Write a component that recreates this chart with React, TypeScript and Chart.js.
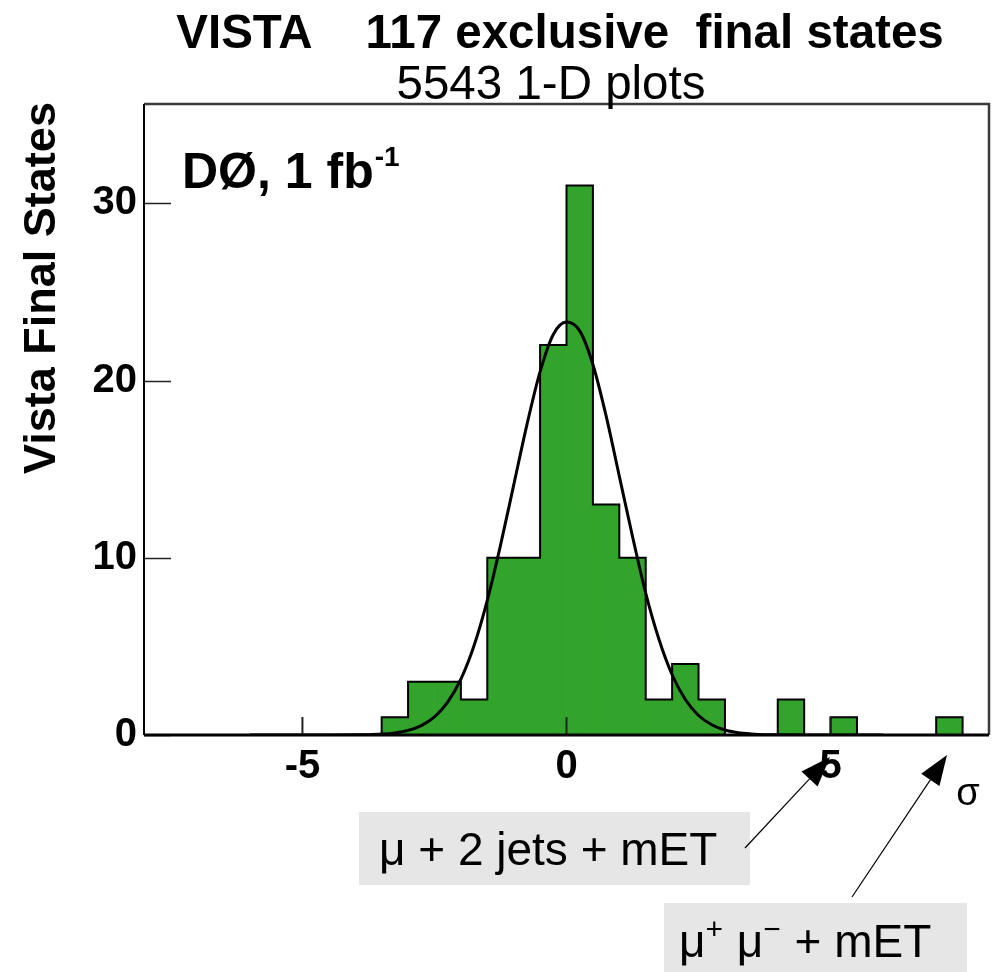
import React, { useEffect, useRef } from 'react';
import { Chart, registerables } from 'chart.js';

Chart.register(...registerables);

// Histogram bins (lower edge, width 0.5) and counts of Vista final states
const binLow = [-3.5, -3, -2.5, -2, -1.5, -1, -0.5, 0, 0.5, 1, 1.5, 2, 2.5, 3, 3.5, 4, 4.5, 5, 5.5, 6, 6.5, 7];
const binCounts = [1, 3, 3, 2, 10, 10, 22, 31, 13, 10, 2, 4, 2, 0, 0, 2, 0, 1, 0, 0, 0, 1];
const binWidth = 0.5;

// Fitted curve
const fitX = [-6, -5.5, -5, -4.5, -4, -3.75, -3.5, -3.25, -3, -2.75, -2.5, -2.25, -2, -1.75, -1.5, -1.25, -1, -0.75, -0.5, -0.25, 0, 0.25, 0.5, 0.75, 1, 1.25, 1.5, 1.75, 2, 2.25, 2.5, 2.75, 3, 3.25, 3.5, 3.75, 4, 4.5, 5, 5.5, 6];
const fitY = [0, 0, 0, 0, 0.01, 0.02, 0.05, 0.12, 0.26, 0.53, 1.02, 1.85, 3.15, 5.05, 7.6, 10.7, 14.1, 17.5, 20.5, 22.6, 23.3, 22.8, 20.9, 18.0, 14.6, 11.2, 8.0, 5.4, 3.4, 2.0, 1.1, 0.58, 0.28, 0.13, 0.06, 0.02, 0.01, 0, 0, 0, 0];

const xTicks = [-5, 0, 5];
const yTicks = [0, 10, 20, 30];

const TITLE = 'VISTA    117 exclusive  final states';
const SUBTITLE = '5543 1-D plots';
const Y_TITLE = 'Vista Final States';
const X_TITLE = 'σ';
const EXPERIMENT = 'DØ, 1 fb';
const EXPERIMENT_SUP = '-1';
const NOTE1 = 'μ + 2 jets + mET';

const FONT = "'Liberation Sans', Arial, Helvetica, sans-serif";
const GREEN = '#33a42b';

function arrow(ctx: CanvasRenderingContext2D, x0: number, y0: number, x1: number, y1: number) {
  const ang = Math.atan2(y1 - y0, x1 - x0);
  const len = 30;
  const hw = 11;
  const bx = x1 - len * Math.cos(ang);
  const by = y1 - len * Math.sin(ang);
  ctx.beginPath();
  ctx.moveTo(x0, y0);
  ctx.lineTo(bx, by);
  ctx.lineWidth = 1.2;
  ctx.strokeStyle = '#000';
  ctx.stroke();
  ctx.beginPath();
  ctx.moveTo(x1, y1);
  ctx.lineTo(bx + hw * Math.sin(ang), by - hw * Math.cos(ang));
  ctx.lineTo(bx - hw * Math.sin(ang), by + hw * Math.cos(ang));
  ctx.closePath();
  ctx.fillStyle = '#000';
  ctx.fill();
}

const decoPlugin = {
  id: 'deco',
  afterDatasetsDraw(chart: any) {
    const { ctx, chartArea: a, scales } = chart;
    const xs = scales.x;
    const ys = scales.y;
    ctx.save();
    // inward tick marks
    ctx.strokeStyle = '#222';
    ctx.lineWidth = 1.5;
    yTicks.forEach((v) => {
      const py = Math.round(ys.getPixelForValue(v)) + 0.5;
      ctx.beginPath();
      ctx.moveTo(a.left, py);
      ctx.lineTo(a.left + 27, py);
      ctx.stroke();
    });
    ctx.lineWidth = 2;
    xTicks.forEach((v) => {
      const px = xs.getPixelForValue(v);
      ctx.beginPath();
      ctx.moveTo(px, a.bottom);
      ctx.lineTo(px, a.bottom - 18);
      ctx.stroke();
    });
    // frame
    ctx.strokeStyle = '#3a3a3a';
    ctx.lineWidth = 2.5;
    ctx.beginPath();
    ctx.moveTo(a.left, a.top);
    ctx.lineTo(a.right, a.top);
    ctx.lineTo(a.right, a.bottom);
    ctx.stroke();
    ctx.strokeStyle = '#000';
    ctx.lineWidth = 2;
    ctx.beginPath();
    ctx.moveTo(a.left, a.top);
    ctx.lineTo(a.left, a.bottom);
    ctx.stroke();
    ctx.lineWidth = 3;
    ctx.beginPath();
    ctx.moveTo(a.left, a.bottom);
    ctx.lineTo(a.right, a.bottom);
    ctx.stroke();
    ctx.restore();
  },
  afterDraw(chart: any) {
    const { ctx } = chart;
    ctx.save();
    ctx.fillStyle = '#000';
    ctx.textBaseline = 'alphabetic';

    // titles
    ctx.textAlign = 'center';
    ctx.font = `bold 47.5px ${FONT}`;
    ctx.fillText(TITLE, 560, 48);
    ctx.font = `47.5px ${FONT}`;
    ctx.fillText(SUBTITLE, 551, 99);

    // y axis title
    ctx.save();
    ctx.translate(55, 288);
    ctx.rotate(-Math.PI / 2);
    ctx.font = `bold 45px ${FONT}`;
    ctx.textAlign = 'center';
    ctx.fillText(Y_TITLE, 0, 0);
    ctx.restore();

    // x axis title
    ctx.font = `38px ${FONT}`;
    ctx.textAlign = 'center';
    ctx.fillText(X_TITLE, 968, 805);

    // experiment label
    ctx.textAlign = 'left';
    ctx.font = `bold 50px ${FONT}`;
    ctx.fillText(EXPERIMENT, 182, 188);
    const w = ctx.measureText(EXPERIMENT).width;
    ctx.font = `bold 28px ${FONT}`;
    ctx.fillText(EXPERIMENT_SUP, 182 + w + 1, 166);

    // annotation boxes
    ctx.fillStyle = '#e6e6e6';
    ctx.fillRect(359, 812, 391, 73);
    ctx.fillRect(664, 903, 303, 69);

    ctx.fillStyle = '#000';
    ctx.font = `46px ${FONT}`;
    ctx.fillText(NOTE1, 379, 865);

    // μ+ μ- + mET with superscripts
    let x = 679;
    const base = 957;
    const big = `46px ${FONT}`;
    const small = `30px ${FONT}`;
    const parts: [string, boolean][] = [['μ', false], ['+', true], [' μ', false], ['−', true], [' + mET', false]];
    parts.forEach(([t, sup]) => {
      ctx.font = sup ? small : big;
      ctx.fillText(t, x, sup ? base - 18 : base);
      x += ctx.measureText(t).width + (sup ? 1 : 0);
    });

    // arrows
    arrow(ctx, 745, 848, 830, 757);
    arrow(ctx, 852, 897, 947, 755);
    ctx.restore();
  },
};

export default function App() {
  const ref = useRef<HTMLCanvasElement | null>(null);

  useEffect(() => {
    if (!ref.current) return;
    const barData = binLow.map((lo, i) => ({ x: lo + binWidth / 2, y: binCounts[i] }));
    const outline: { x: number; y: number }[] = [{ x: binLow[0], y: 0 }];
    binLow.forEach((lo, i) => outline.push({ x: lo, y: binCounts[i] }));
    outline.push({ x: binLow[binLow.length - 1] + binWidth, y: 0 });
    const fitData = fitX.map((v, i) => ({ x: v, y: fitY[i] }));

    const tickFont = { family: FONT, size: 40, weight: 'bold' as const };

    const chart = new Chart(ref.current, {
      type: 'bar',
      data: {
        datasets: [
          {
            type: 'line',
            data: fitData,
            borderColor: '#000',
            borderWidth: 3,
            pointRadius: 0,
            cubicInterpolationMode: 'monotone',
            fill: false,
            order: 0,
          } as any,
          {
            type: 'line',
            data: outline,
            borderColor: '#000',
            borderWidth: 2,
            pointRadius: 0,
            stepped: true,
            fill: false,
            order: 1,
          } as any,
          {
            type: 'bar',
            data: barData,
            backgroundColor: GREEN,
            borderWidth: 0,
            barPercentage: 1,
            categoryPercentage: 1,
            order: 2,
          } as any,
        ],
      },
      options: {
        responsive: false,
        animation: false,
        events: [],
        layout: { padding: { top: 104, right: 14, left: 0, bottom: 0 } },
        plugins: {
          legend: { display: false },
          tooltip: { enabled: false },
          title: { display: false },
        },
        scales: {
          x: {
            type: 'linear',
            min: -8,
            max: 8,
            offset: false,
            grid: { display: false, drawTicks: false, offset: false },
            border: { display: false },
            ticks: { font: tickFont, color: '#000', padding: 8, maxRotation: 0, autoSkip: false },
            afterBuildTicks: (s: any) => {
              s.ticks = xTicks.map((v) => ({ value: v }));
            },
            afterFit: (s: any) => {
              s.height = 237;
            },
          },
          y: {
            type: 'linear',
            min: 0,
            max: 35.6,
            grid: { display: false, drawTicks: false },
            border: { display: false },
            ticks: { font: tickFont, color: '#000', padding: 7, autoSkip: false },
            afterBuildTicks: (s: any) => {
              s.ticks = yTicks.map((v) => ({ value: v }));
            },
            afterFit: (s: any) => {
              s.width = 144;
            },
          },
        },
      } as any,
      plugins: [decoPlugin],
    });
    return () => chart.destroy();
  }, []);

  return (
    <div style={{ position: 'absolute', left: 0, top: 0, width: 1003, height: 972, background: '#fff' }}>
      <canvas ref={ref} width={1003} height={972} style={{ display: 'block' }} />
    </div>
  );
}
